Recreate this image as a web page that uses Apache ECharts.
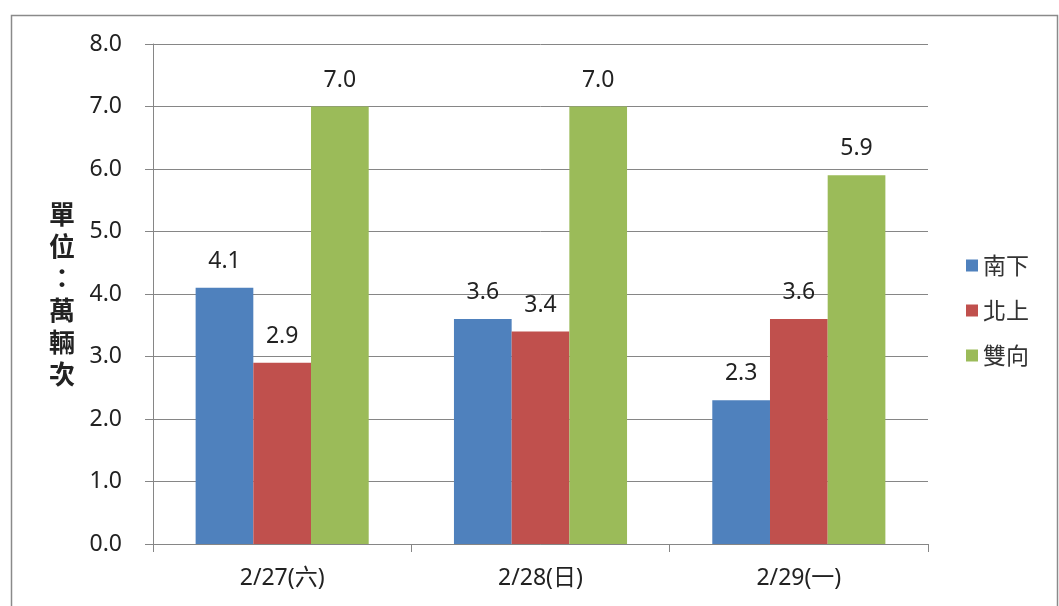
<!DOCTYPE html>
<html>
<head>
<meta charset="utf-8">
<script src="https://cdn.jsdelivr.net/npm/echarts@6/dist/echarts.min.js"></script>
<style>
  html, body { margin: 0; padding: 0; background: #fff; }
  #main { width: 1059px; height: 606px; }
</style>
</head>
<body>
<div id="main"></div>
<script>
// 日期
var categories = ['2/27(六)', '2/28(日)', '2/29(一)'];
// 南下 / 北上 / 雙向 (萬輛次)
var southbound = [4.1, 3.6, 2.3];
var northbound = [2.9, 3.4, 3.6];
var bothWays = [7.0, 7.0, 5.9];
var seriesNames = ['南下', '北上', '雙向'];
var yTicks = { min: 0, max: 8, interval: 1 };

(function () {
    var myChart = echarts.init(document.getElementById('main'));
    var font = '"Noto Sans", "Noto Sans CJK TC", sans-serif';
    var cjk = '"Noto Sans CJK TC", sans-serif';
    var labelStyle = {
        show: true,
        position: 'top',
        distance: 15,
        fontSize: 23,
        color: '#222',
        fontFamily: font,
        formatter: function (p) { return p.value.toFixed(1); }
    };
    option = {
        color: ['#4F81BD', '#C0504D', '#9BBB59'],
        animation: false,
        graphic: [{
            type: 'rect',
            shape: { x: 11.5, y: 15.5, width: 1046, height: 600 },
            style: { fill: 'none', stroke: '#8a8a8a', lineWidth: 1.5 },
            silent: true
        }],
        grid: {
            left: 153,
            right: 131,
            top: 44,
            bottom: 62
        },
        legend: {
            orient: 'vertical',
            left: 961,
            top: 249,
            itemWidth: 12,
            itemHeight: 12,
            itemGap: 22,
            icon: 'rect',
            textStyle: { fontSize: 23, color: '#333', fontFamily: cjk },
            data: seriesNames
        },
        xAxis: {
            type: 'category',
            data: categories,
            axisLine: { lineStyle: { color: '#868686', width: 1 } },
            axisTick: { show: true, length: 8, inside: false, lineStyle: { color: '#868686' } },
            axisLabel: { fontSize: 23, color: '#222', margin: 23, fontFamily: font }
        },
        yAxis: {
            type: 'value',
            min: yTicks.min,
            max: yTicks.max,
            interval: yTicks.interval,
            name: '單\n位\n：\n萬\n輛\n次',
            nameLocation: 'middle',
            nameRotate: 0,
            nameGap: 91,
            nameTextStyle: {
                fontSize: 26,
                fontWeight: 'bold',
                color: '#222',
                lineHeight: 32,
                align: 'center',
                verticalAlign: 'middle',
                fontFamily: cjk
            },
            axisLine: { show: true, lineStyle: { color: '#868686', width: 1 } },
            axisTick: { show: true, length: 8, lineStyle: { color: '#868686' } },
            axisLabel: {
                fontSize: 23,
                color: '#222',
                margin: 31,
                fontFamily: font,
                formatter: function (v) { return v.toFixed(1); }
            },
            splitLine: { show: true, lineStyle: { color: '#868686', width: 1 } }
        },
        series: [
            {
                name: seriesNames[0],
                type: 'bar',
                data: southbound,
                barGap: '0%',
                barCategoryGap: '33%',
                label: labelStyle
            },
            {
                name: seriesNames[1],
                type: 'bar',
                data: northbound,
                barGap: '0%',
                barCategoryGap: '33%',
                label: labelStyle
            },
            {
                name: seriesNames[2],
                type: 'bar',
                data: bothWays,
                barGap: '0%',
                barCategoryGap: '33%',
                label: labelStyle
            }
        ]
    };
    myChart.setOption(option);
})();
</script>
</body>
</html>
